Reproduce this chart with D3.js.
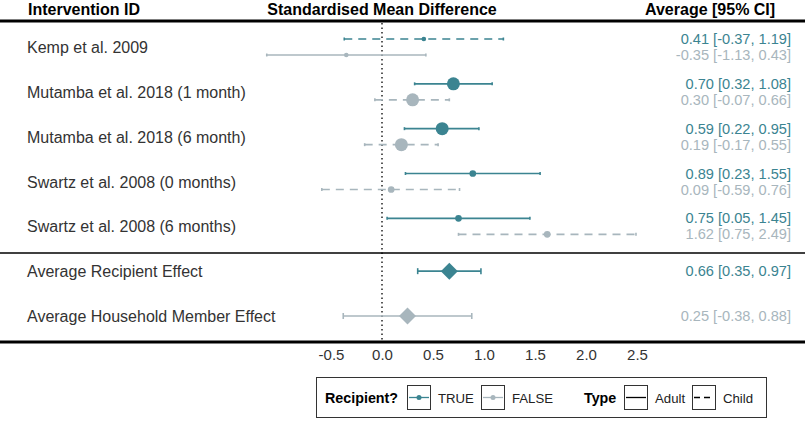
<!DOCTYPE html>
<html><head><meta charset="utf-8">
<script src="https://cdn.jsdelivr.net/npm/d3@7"></script>
<style>body{margin:0;background:#fff}svg{display:block;font-family:"Liberation Sans",Arial,sans-serif}</style>
</head><body><svg id="c" width="805" height="425"></svg>
<script>
const rows = ["Kemp et al. 2009","Mutamba et al. 2018 (1 month)","Mutamba et al. 2018 (6 month)","Swartz et al. 2008 (0 months)","Swartz et al. 2008 (6 months)","Average Recipient Effect","Average Household Member Effect"];
const studyIds = ["Kemp et al. 2009","Kemp et al. 2009","Mutamba et al. 2018 (1 month)","Mutamba et al. 2018 (1 month)","Mutamba et al. 2018 (6 month)","Mutamba et al. 2018 (6 month)","Swartz et al. 2008 (0 months)","Swartz et al. 2008 (0 months)","Swartz et al. 2008 (6 months)","Swartz et al. 2008 (6 months)"];
const recipient = [true,false,true,false,true,false,true,false,true,false];
const type = ["Child","Adult","Adult","Child","Adult","Child","Adult","Child","Adult","Child"];
const est = [0.41,-0.35,0.70,0.30,0.59,0.19,0.89,0.09,0.75,1.62];
const lo = [-0.37,-1.13,0.32,-0.07,0.22,-0.17,0.23,-0.59,0.05,0.75];
const hi = [1.19,0.43,1.08,0.66,0.95,0.55,1.55,0.76,1.45,2.49];
const weight = [1,1,7,7,7,7,2,2,2,2];
const avgIds = ["Average Recipient Effect","Average Household Member Effect"];
const avgRecipient = [true,false];
const avgEst = [0.66,0.25];
const avgLo = [0.35,-0.38];
const avgHi = [0.97,0.88];
const xTicks = [-0.5,0,0.5,1.0,1.5,2.0,2.5];

const teal="#3b8491", grey="#a8b6bd";
const svg=d3.select("#c");
const x=d3.scaleLinear().domain([0,1]).range([382,484]);
const y=d3.scalePoint().domain(rows).range([47,316]);
const r=d3.scaleSqrt().domain([1,7]).range([2.3,6.5]);
const off=v=>v?-8:8;
const f2=d3.format(".2f");
const fmt=v=>f2(v).replace("\u2212","-");

// header
svg.append("text").attr("x",28).attr("y",14.5).attr("font-weight","bold").attr("font-size",16).attr("fill","#000").text("Intervention ID");
svg.append("text").attr("x",382).attr("y",14.5).attr("text-anchor","middle").attr("font-weight","bold").attr("font-size",16).text("Standardised Mean Difference");
svg.append("text").attr("x",645).attr("y",14.5).attr("font-weight","bold").attr("font-size",16).text("Average [95% CI]");

// lines
svg.append("line").attr("x1",0).attr("x2",805).attr("y1",21).attr("y2",21).attr("stroke","#000").attr("stroke-width",3);
svg.append("line").attr("x1",0).attr("x2",805).attr("y1",253).attr("y2",253).attr("stroke","#000").attr("stroke-width",1.5);
svg.append("line").attr("x1",0).attr("x2",805).attr("y1",342).attr("y2",342).attr("stroke","#000").attr("stroke-width",3);
svg.append("line").attr("x1",x(0)).attr("x2",x(0)).attr("y1",23).attr("y2",341).attr("stroke","#000").attr("stroke-width",1.3).attr("stroke-dasharray","1.5,3");

// row labels
svg.selectAll("text.lab").data(rows).join("text").attr("class","lab")
  .attr("x",27).attr("y",d=>y(d)+6)
  .attr("font-size",16).attr("fill","#333").text(d=>d);

// x axis
const ax=svg.append("g").attr("transform","translate(0,342)").call(d3.axisBottom(x).tickValues(xTicks).tickFormat(d=>d3.format(".1f")(d).replace("\u2212","-")).tickSize(0).tickPadding(7));
ax.select(".domain").remove();
ax.selectAll("text").attr("font-size",15).attr("fill","#333").attr("font-family","Liberation Sans, Arial, sans-serif");

// study marks
const g=svg.append("g");
est.forEach((e,i)=>{
  const cy=y(studyIds[i])+off(recipient[i]);
  const col=recipient[i]?teal:grey;
  g.append("line").attr("x1",x(lo[i])).attr("x2",x(hi[i])).attr("y1",cy).attr("y2",cy).attr("stroke",col).attr("stroke-width",1.6).attr("stroke-dasharray",type[i]==="Child"?"8,6":null);
  [lo[i],hi[i]].forEach(v=>g.append("line").attr("x1",x(v)).attr("x2",x(v)).attr("y1",cy-1.5).attr("y2",cy+1.5).attr("stroke",col).attr("stroke-width",1.6));
  g.append("circle").attr("cx",x(e)).attr("cy",cy).attr("r",r(weight[i])).attr("fill",col);
  svg.append("text").attr("x",791).attr("y",cy+5).attr("text-anchor","end").attr("font-size",14.6).attr("fill",col).text(`${fmt(e)} [${fmt(lo[i])}, ${fmt(hi[i])}]`);
});
// averages
avgEst.forEach((e,i)=>{
  const cy=y(avgIds[i]);
  const col=avgRecipient[i]?teal:grey;
  g.append("line").attr("x1",x(avgLo[i])).attr("x2",x(avgHi[i])).attr("y1",cy).attr("y2",cy).attr("stroke",col).attr("stroke-width",1.6);
  [avgLo[i],avgHi[i]].forEach(v=>g.append("line").attr("x1",x(v)).attr("x2",x(v)).attr("y1",cy-3).attr("y2",cy+3).attr("stroke",col).attr("stroke-width",1.6));
  const s=8.5, cx=x(e);
  g.append("path").attr("d",`M${cx},${cy-s}L${cx+s},${cy}L${cx},${cy+s}L${cx-s},${cy}Z`).attr("fill",col);
  svg.append("text").attr("x",791).attr("y",cy+5).attr("text-anchor","end").attr("font-size",14.6).attr("fill",col).text(`${fmt(e)} [${fmt(avgLo[i])}, ${fmt(avgHi[i])}]`);
});

// legend
const L=svg.append("g");
L.append("rect").attr("x",316.5).attr("y",377.5).attr("width",450).attr("height",40).attr("fill","#fff").attr("stroke","#333").attr("stroke-width",1);
L.append("text").attr("x",325).attr("y",403).attr("font-weight","bold").attr("font-size",14.3).text("Recipient?");
const keys=[{x:407,col:teal,dot:true,dash:null,label:"TRUE"},{x:481,col:grey,dot:true,dash:null,label:"FALSE"},{x:624,col:"#000",dot:false,dash:null,label:"Adult"},{x:692,col:"#000",dot:false,dash:"6,4",label:"Child"}];
keys.forEach(k=>{
  L.append("rect").attr("x",k.x+0.5).attr("y",385.5).attr("width",23).attr("height",24).attr("fill","#fff").attr("stroke","#333").attr("stroke-width",1);
  L.append("line").attr("x1",k.x+2).attr("x2",k.x+22).attr("y1",397.5).attr("y2",397.5).attr("stroke",k.col).attr("stroke-width",1.3).attr("stroke-dasharray",k.dash);
  if(k.dot) L.append("circle").attr("cx",k.x+12).attr("cy",397.5).attr("r",2.5).attr("fill",k.col);
  L.append("text").attr("x",k.x+31).attr("y",402.5).attr("font-size",13.2).attr("fill","#222").text(k.label);
});
L.append("text").attr("x",584).attr("y",403).attr("font-weight","bold").attr("font-size",14.3).text("Type");
</script></body></html>
